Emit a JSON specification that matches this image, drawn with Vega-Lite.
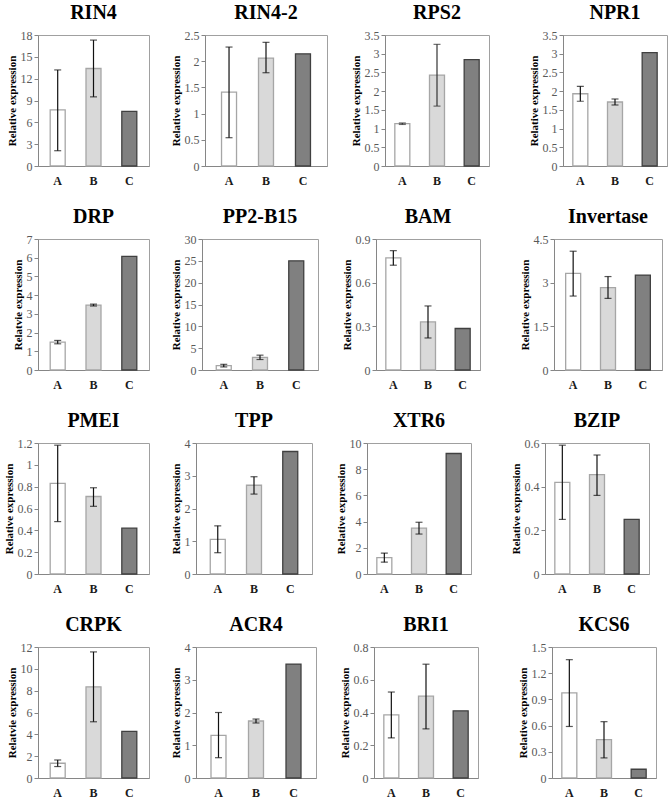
{
  "$schema": "https://vega.github.io/schema/vega-lite/v6.json",
  "padding": {"left": 2, "top": 2, "right": 2, "bottom": 2},
  "background": "#ffffff",
  "data": {"values": [
    {"gene": "RIN4", "g": "A", "v": 7.7, "lo": 2.1, "hi": 13.2},
    {"gene": "RIN4", "g": "B", "v": 13.4, "lo": 9.5, "hi": 17.3},
    {"gene": "RIN4", "g": "C", "v": 7.5},
    {"gene": "RIN4-2", "g": "A", "v": 1.41, "lo": 0.54, "hi": 2.27},
    {"gene": "RIN4-2", "g": "B", "v": 2.06, "lo": 1.78, "hi": 2.36},
    {"gene": "RIN4-2", "g": "C", "v": 2.14},
    {"gene": "RPS2", "g": "A", "v": 1.13, "lo": 1.11, "hi": 1.15},
    {"gene": "RPS2", "g": "B", "v": 2.43, "lo": 1.6, "hi": 3.25},
    {"gene": "RPS2", "g": "C", "v": 2.84},
    {"gene": "NPR1", "g": "A", "v": 1.93, "lo": 1.73, "hi": 2.13},
    {"gene": "NPR1", "g": "B", "v": 1.71, "lo": 1.63, "hi": 1.79},
    {"gene": "NPR1", "g": "C", "v": 3.03},
    {"gene": "DRP", "g": "A", "v": 1.49, "lo": 1.4, "hi": 1.58},
    {"gene": "DRP", "g": "B", "v": 3.47, "lo": 3.42, "hi": 3.52},
    {"gene": "DRP", "g": "C", "v": 6.07},
    {"gene": "PP2-B15", "g": "A", "v": 1.0, "lo": 0.7, "hi": 1.3},
    {"gene": "PP2-B15", "g": "B", "v": 2.9, "lo": 2.4, "hi": 3.4},
    {"gene": "PP2-B15", "g": "C", "v": 25.0},
    {"gene": "BAM", "g": "A", "v": 0.77, "lo": 0.72, "hi": 0.82},
    {"gene": "BAM", "g": "B", "v": 0.33, "lo": 0.22, "hi": 0.44},
    {"gene": "BAM", "g": "C", "v": 0.285},
    {"gene": "Invertase", "g": "A", "v": 3.32, "lo": 2.54, "hi": 4.08},
    {"gene": "Invertase", "g": "B", "v": 2.83, "lo": 2.46, "hi": 3.21},
    {"gene": "Invertase", "g": "C", "v": 3.26},
    {"gene": "PMEI", "g": "A", "v": 0.83, "lo": 0.48, "hi": 1.18},
    {"gene": "PMEI", "g": "B", "v": 0.71, "lo": 0.62, "hi": 0.79},
    {"gene": "PMEI", "g": "C", "v": 0.42},
    {"gene": "TPP", "g": "A", "v": 1.06, "lo": 0.65, "hi": 1.47},
    {"gene": "TPP", "g": "B", "v": 2.71, "lo": 2.44, "hi": 2.97},
    {"gene": "TPP", "g": "C", "v": 3.74},
    {"gene": "XTR6", "g": "A", "v": 1.25, "lo": 0.9, "hi": 1.6},
    {"gene": "XTR6", "g": "B", "v": 3.5, "lo": 3.05, "hi": 3.95},
    {"gene": "XTR6", "g": "C", "v": 9.2},
    {"gene": "BZIP", "g": "A", "v": 0.42, "lo": 0.25, "hi": 0.59},
    {"gene": "BZIP", "g": "B", "v": 0.455, "lo": 0.36, "hi": 0.545},
    {"gene": "BZIP", "g": "C", "v": 0.25},
    {"gene": "CRPK", "g": "A", "v": 1.35, "lo": 1.05, "hi": 1.65},
    {"gene": "CRPK", "g": "B", "v": 8.35, "lo": 5.15, "hi": 11.55},
    {"gene": "CRPK", "g": "C", "v": 4.28},
    {"gene": "ACR4", "g": "A", "v": 1.3, "lo": 0.62, "hi": 2.0},
    {"gene": "ACR4", "g": "B", "v": 1.74, "lo": 1.68, "hi": 1.8},
    {"gene": "ACR4", "g": "C", "v": 3.48},
    {"gene": "BRI1", "g": "A", "v": 0.385, "lo": 0.245, "hi": 0.525},
    {"gene": "BRI1", "g": "B", "v": 0.5, "lo": 0.3, "hi": 0.695},
    {"gene": "BRI1", "g": "C", "v": 0.41},
    {"gene": "KCS6", "g": "A", "v": 0.975, "lo": 0.59, "hi": 1.355},
    {"gene": "KCS6", "g": "B", "v": 0.44, "lo": 0.23, "hi": 0.645},
    {"gene": "KCS6", "g": "C", "v": 0.1}
  ]},
  "spacing": 19,
  "vconcat": [
   {"spacing": 21, "hconcat": [
    {"spacing": 19, "hconcat": [
    {"title": "RIN4", "width": 111, "height": 131, "transform": [{"filter": "datum.gene === 'RIN4'"}],
     "encoding": {"x": {"field": "g", "type": "nominal", "scale": {"paddingInner": 0, "paddingOuter": 0.05}}},
     "layer": [
      {"mark": {"type": "bar", "width": 15, "strokeWidth": 1.3}, "encoding": {"y": {"field": "v", "type": "quantitative", "title": "Relative expression", "scale": {"domain": [0, 18], "nice": false}, "axis": {"values": [0, 3, 6, 9, 12, 15, 18]}}, "fill": {"field": "g", "type": "nominal", "scale": {"domain": ["A", "B", "C"], "range": ["#ffffff", "#d9d9d9", "#808080"]}, "legend": null}, "stroke": {"field": "g", "type": "nominal", "scale": {"domain": ["A", "B", "C"], "range": ["#a6a6a6", "#a6a6a6", "#404040"]}, "legend": null}}},
      {"transform": [{"filter": "isValid(datum.lo)"}], "mark": {"type": "rule", "color": "#111", "strokeWidth": 1.2}, "encoding": {"y": {"field": "lo", "type": "quantitative", "title": "Relative expression"}, "y2": {"field": "hi"}}},
      {"transform": [{"filter": "isValid(datum.lo)"}], "mark": {"type": "tick", "size": 7, "thickness": 1.2, "color": "#111"}, "encoding": {"y": {"field": "lo", "type": "quantitative", "title": "Relative expression"}}},
      {"transform": [{"filter": "isValid(datum.lo)"}], "mark": {"type": "tick", "size": 7, "thickness": 1.2, "color": "#111"}, "encoding": {"y": {"field": "hi", "type": "quantitative", "title": "Relative expression"}}}
     ]},
    {"title": "RIN4-2", "width": 122, "height": 131, "transform": [{"filter": "datum.gene === 'RIN4-2'"}],
     "encoding": {"x": {"field": "g", "type": "nominal", "scale": {"paddingInner": 0, "paddingOuter": 0.15}}},
     "layer": [
      {"mark": {"type": "bar", "width": 15, "strokeWidth": 1.3}, "encoding": {"y": {"field": "v", "type": "quantitative", "title": "Relative expression", "scale": {"domain": [0, 2.5], "nice": false}, "axis": {"values": [0, 0.5, 1, 1.5, 2, 2.5]}}, "fill": {"field": "g", "type": "nominal", "legend": null}, "stroke": {"field": "g", "type": "nominal", "legend": null}}},
      {"transform": [{"filter": "isValid(datum.lo)"}], "mark": {"type": "rule", "color": "#111", "strokeWidth": 1.2}, "encoding": {"y": {"field": "lo", "type": "quantitative", "title": "Relative expression"}, "y2": {"field": "hi"}}},
      {"transform": [{"filter": "isValid(datum.lo)"}], "mark": {"type": "tick", "size": 7, "thickness": 1.2, "color": "#111"}, "encoding": {"y": {"field": "lo", "type": "quantitative", "title": "Relative expression"}}},
      {"transform": [{"filter": "isValid(datum.lo)"}], "mark": {"type": "tick", "size": 7, "thickness": 1.2, "color": "#111"}, "encoding": {"y": {"field": "hi", "type": "quantitative", "title": "Relative expression"}}}
     ]}
    ]},
    {"spacing": 37, "hconcat": [
    {"title": "RPS2", "width": 104, "height": 131, "transform": [{"filter": "datum.gene === 'RPS2'"}],
     "encoding": {"x": {"field": "g", "type": "nominal", "scale": {"paddingInner": 0, "paddingOuter": 0.0}}},
     "layer": [
      {"mark": {"type": "bar", "width": 15, "strokeWidth": 1.3}, "encoding": {"y": {"field": "v", "type": "quantitative", "title": "Relative expression", "scale": {"domain": [0, 3.5], "nice": false}, "axis": {"values": [0, 0.5, 1, 1.5, 2, 2.5, 3, 3.5]}}, "fill": {"field": "g", "type": "nominal", "legend": null}, "stroke": {"field": "g", "type": "nominal", "legend": null}}},
      {"transform": [{"filter": "isValid(datum.lo)"}], "mark": {"type": "rule", "color": "#333", "strokeWidth": 1.2}, "encoding": {"y": {"field": "lo", "type": "quantitative", "title": "Relative expression"}, "y2": {"field": "hi"}}},
      {"transform": [{"filter": "isValid(datum.lo)"}], "mark": {"type": "tick", "size": 7, "thickness": 1.2, "color": "#333"}, "encoding": {"y": {"field": "lo", "type": "quantitative", "title": "Relative expression"}}},
      {"transform": [{"filter": "isValid(datum.lo)"}], "mark": {"type": "tick", "size": 7, "thickness": 1.2, "color": "#333"}, "encoding": {"y": {"field": "hi", "type": "quantitative", "title": "Relative expression"}}}
     ]},
    {"title": "NPR1", "width": 104, "height": 131, "transform": [{"filter": "datum.gene === 'NPR1'"}],
     "encoding": {"x": {"field": "g", "type": "nominal", "scale": {"paddingInner": 0, "paddingOuter": 0.0}}},
     "layer": [
      {"mark": {"type": "bar", "width": 15, "strokeWidth": 1.3}, "encoding": {"y": {"field": "v", "type": "quantitative", "title": "Relative expression", "scale": {"domain": [0, 3.5], "nice": false}, "axis": {"values": [0, 0.5, 1, 1.5, 2, 2.5, 3, 3.5]}}, "fill": {"field": "g", "type": "nominal", "legend": null}, "stroke": {"field": "g", "type": "nominal", "legend": null}}},
      {"transform": [{"filter": "isValid(datum.lo)"}], "mark": {"type": "rule", "color": "#111", "strokeWidth": 1.2}, "encoding": {"y": {"field": "lo", "type": "quantitative", "title": "Relative expression"}, "y2": {"field": "hi"}}},
      {"transform": [{"filter": "isValid(datum.lo)"}], "mark": {"type": "tick", "size": 7, "thickness": 1.2, "color": "#111"}, "encoding": {"y": {"field": "lo", "type": "quantitative", "title": "Relative expression"}}},
      {"transform": [{"filter": "isValid(datum.lo)"}], "mark": {"type": "tick", "size": 7, "thickness": 1.2, "color": "#111"}, "encoding": {"y": {"field": "hi", "type": "quantitative", "title": "Relative expression"}}}
     ]}
    ]}
   ]},
   {"spacing": 21, "hconcat": [
    {"spacing": 19, "hconcat": [
    {"title": "DRP", "width": 111, "height": 131, "transform": [{"filter": "datum.gene === 'DRP'"}],
     "encoding": {"x": {"field": "g", "type": "nominal", "scale": {"paddingInner": 0, "paddingOuter": 0.05}}},
     "layer": [
      {"mark": {"type": "bar", "width": 15, "strokeWidth": 1.3}, "encoding": {"y": {"field": "v", "type": "quantitative", "title": "Relatvie expression", "scale": {"domain": [0, 7], "nice": false}, "axis": {"values": [0, 1, 2, 3, 4, 5, 6, 7]}}, "fill": {"field": "g", "type": "nominal", "legend": null}, "stroke": {"field": "g", "type": "nominal", "legend": null}}},
      {"transform": [{"filter": "isValid(datum.lo)"}], "mark": {"type": "rule", "color": "#111", "strokeWidth": 1.2}, "encoding": {"y": {"field": "lo", "type": "quantitative", "title": "Relatvie expression"}, "y2": {"field": "hi"}}},
      {"transform": [{"filter": "isValid(datum.lo)"}], "mark": {"type": "tick", "size": 7, "thickness": 1.2, "color": "#111"}, "encoding": {"y": {"field": "lo", "type": "quantitative", "title": "Relatvie expression"}}},
      {"transform": [{"filter": "isValid(datum.lo)"}], "mark": {"type": "tick", "size": 7, "thickness": 1.2, "color": "#111"}, "encoding": {"y": {"field": "hi", "type": "quantitative", "title": "Relatvie expression"}}}
     ]},
    {"title": "PP2-B15", "width": 116, "height": 131, "transform": [{"filter": "datum.gene === 'PP2-B15'"}],
     "encoding": {"x": {"field": "g", "type": "nominal", "scale": {"paddingInner": 0, "paddingOuter": 0.1}}},
     "layer": [
      {"mark": {"type": "bar", "width": 15, "strokeWidth": 1.3}, "encoding": {"y": {"field": "v", "type": "quantitative", "title": "Relative expression", "scale": {"domain": [0, 30], "nice": false}, "axis": {"values": [0, 5, 10, 15, 20, 25, 30]}}, "fill": {"field": "g", "type": "nominal", "legend": null}, "stroke": {"field": "g", "type": "nominal", "legend": null}}},
      {"transform": [{"filter": "isValid(datum.lo)"}], "mark": {"type": "rule", "color": "#111", "strokeWidth": 1.2}, "encoding": {"y": {"field": "lo", "type": "quantitative", "title": "Relative expression"}, "y2": {"field": "hi"}}},
      {"transform": [{"filter": "isValid(datum.lo)"}], "mark": {"type": "tick", "size": 7, "thickness": 1.2, "color": "#111"}, "encoding": {"y": {"field": "lo", "type": "quantitative", "title": "Relative expression"}}},
      {"transform": [{"filter": "isValid(datum.lo)"}], "mark": {"type": "tick", "size": 7, "thickness": 1.2, "color": "#111"}, "encoding": {"y": {"field": "hi", "type": "quantitative", "title": "Relative expression"}}}
     ]}
    ]},
    {"spacing": 37, "hconcat": [
    {"title": "BAM", "width": 104, "height": 131, "transform": [{"filter": "datum.gene === 'BAM'"}],
     "encoding": {"x": {"field": "g", "type": "nominal", "scale": {"paddingInner": 0, "paddingOuter": 0.0}}},
     "layer": [
      {"mark": {"type": "bar", "width": 15, "strokeWidth": 1.3}, "encoding": {"y": {"field": "v", "type": "quantitative", "title": "Relative expression", "scale": {"domain": [0, 0.9], "nice": false}, "axis": {"values": [0, 0.3, 0.6, 0.9]}}, "fill": {"field": "g", "type": "nominal", "legend": null}, "stroke": {"field": "g", "type": "nominal", "legend": null}}},
      {"transform": [{"filter": "isValid(datum.lo)"}], "mark": {"type": "rule", "color": "#111", "strokeWidth": 1.2}, "encoding": {"y": {"field": "lo", "type": "quantitative", "title": "Relative expression"}, "y2": {"field": "hi"}}},
      {"transform": [{"filter": "isValid(datum.lo)"}], "mark": {"type": "tick", "size": 7, "thickness": 1.2, "color": "#111"}, "encoding": {"y": {"field": "lo", "type": "quantitative", "title": "Relative expression"}}},
      {"transform": [{"filter": "isValid(datum.lo)"}], "mark": {"type": "tick", "size": 7, "thickness": 1.2, "color": "#111"}, "encoding": {"y": {"field": "hi", "type": "quantitative", "title": "Relative expression"}}}
     ]},
    {"title": "Invertase", "width": 108, "height": 131, "transform": [{"filter": "datum.gene === 'Invertase'"}],
     "encoding": {"x": {"field": "g", "type": "nominal", "scale": {"paddingInner": 0, "paddingOuter": 0.05}}},
     "layer": [
      {"mark": {"type": "bar", "width": 15, "strokeWidth": 1.3}, "encoding": {"y": {"field": "v", "type": "quantitative", "title": "Relative expression", "scale": {"domain": [0, 4.5], "nice": false}, "axis": {"values": [0, 1.5, 3, 4.5]}}, "fill": {"field": "g", "type": "nominal", "legend": null}, "stroke": {"field": "g", "type": "nominal", "legend": null}}},
      {"transform": [{"filter": "isValid(datum.lo)"}], "mark": {"type": "rule", "color": "#111", "strokeWidth": 1.2}, "encoding": {"y": {"field": "lo", "type": "quantitative", "title": "Relative expression"}, "y2": {"field": "hi"}}},
      {"transform": [{"filter": "isValid(datum.lo)"}], "mark": {"type": "tick", "size": 7, "thickness": 1.2, "color": "#111"}, "encoding": {"y": {"field": "lo", "type": "quantitative", "title": "Relative expression"}}},
      {"transform": [{"filter": "isValid(datum.lo)"}], "mark": {"type": "tick", "size": 7, "thickness": 1.2, "color": "#111"}, "encoding": {"y": {"field": "hi", "type": "quantitative", "title": "Relative expression"}}}
     ]}
    ]}
   ]},
   {"spacing": 21, "hconcat": [
    {"spacing": 19, "hconcat": [
    {"title": "PMEI", "width": 111, "height": 131, "transform": [{"filter": "datum.gene === 'PMEI'"}],
     "encoding": {"x": {"field": "g", "type": "nominal", "scale": {"paddingInner": 0, "paddingOuter": 0.05}}},
     "layer": [
      {"mark": {"type": "bar", "width": 15, "strokeWidth": 1.3}, "encoding": {"y": {"field": "v", "type": "quantitative", "title": "Relative expression", "scale": {"domain": [0, 1.2], "nice": false}, "axis": {"values": [0, 0.2, 0.4, 0.6, 0.8, 1, 1.2]}}, "fill": {"field": "g", "type": "nominal", "legend": null}, "stroke": {"field": "g", "type": "nominal", "legend": null}}},
      {"transform": [{"filter": "isValid(datum.lo)"}], "mark": {"type": "rule", "color": "#111", "strokeWidth": 1.2}, "encoding": {"y": {"field": "lo", "type": "quantitative", "title": "Relative expression"}, "y2": {"field": "hi"}}},
      {"transform": [{"filter": "isValid(datum.lo)"}], "mark": {"type": "tick", "size": 7, "thickness": 1.2, "color": "#111"}, "encoding": {"y": {"field": "lo", "type": "quantitative", "title": "Relative expression"}}},
      {"transform": [{"filter": "isValid(datum.lo)"}], "mark": {"type": "tick", "size": 7, "thickness": 1.2, "color": "#111"}, "encoding": {"y": {"field": "hi", "type": "quantitative", "title": "Relative expression"}}}
     ]},
    {"title": "TPP", "width": 116, "height": 131, "transform": [{"filter": "datum.gene === 'TPP'"}],
     "encoding": {"x": {"field": "g", "type": "nominal", "scale": {"paddingInner": 0, "paddingOuter": 0.1}}},
     "layer": [
      {"mark": {"type": "bar", "width": 15, "strokeWidth": 1.3}, "encoding": {"y": {"field": "v", "type": "quantitative", "title": "Relative expression", "scale": {"domain": [0, 4], "nice": false}, "axis": {"values": [0, 1, 2, 3, 4]}}, "fill": {"field": "g", "type": "nominal", "legend": null}, "stroke": {"field": "g", "type": "nominal", "legend": null}}},
      {"transform": [{"filter": "isValid(datum.lo)"}], "mark": {"type": "rule", "color": "#111", "strokeWidth": 1.2}, "encoding": {"y": {"field": "lo", "type": "quantitative", "title": "Relative expression"}, "y2": {"field": "hi"}}},
      {"transform": [{"filter": "isValid(datum.lo)"}], "mark": {"type": "tick", "size": 7, "thickness": 1.2, "color": "#111"}, "encoding": {"y": {"field": "lo", "type": "quantitative", "title": "Relative expression"}}},
      {"transform": [{"filter": "isValid(datum.lo)"}], "mark": {"type": "tick", "size": 7, "thickness": 1.2, "color": "#111"}, "encoding": {"y": {"field": "hi", "type": "quantitative", "title": "Relative expression"}}}
     ]}
    ]},
    {"spacing": 37, "hconcat": [
    {"title": "XTR6", "width": 104, "height": 131, "transform": [{"filter": "datum.gene === 'XTR6'"}],
     "encoding": {"x": {"field": "g", "type": "nominal", "scale": {"paddingInner": 0, "paddingOuter": 0.0}}},
     "layer": [
      {"mark": {"type": "bar", "width": 15, "strokeWidth": 1.3}, "encoding": {"y": {"field": "v", "type": "quantitative", "title": "Relative expression", "scale": {"domain": [0, 10], "nice": false}, "axis": {"values": [0, 2, 4, 6, 8, 10]}}, "fill": {"field": "g", "type": "nominal", "legend": null}, "stroke": {"field": "g", "type": "nominal", "legend": null}}},
      {"transform": [{"filter": "isValid(datum.lo)"}], "mark": {"type": "rule", "color": "#111", "strokeWidth": 1.2}, "encoding": {"y": {"field": "lo", "type": "quantitative", "title": "Relative expression"}, "y2": {"field": "hi"}}},
      {"transform": [{"filter": "isValid(datum.lo)"}], "mark": {"type": "tick", "size": 7, "thickness": 1.2, "color": "#111"}, "encoding": {"y": {"field": "lo", "type": "quantitative", "title": "Relative expression"}}},
      {"transform": [{"filter": "isValid(datum.lo)"}], "mark": {"type": "tick", "size": 7, "thickness": 1.2, "color": "#111"}, "encoding": {"y": {"field": "hi", "type": "quantitative", "title": "Relative expression"}}}
     ]},
    {"title": "BZIP", "width": 104, "height": 131, "transform": [{"filter": "datum.gene === 'BZIP'"}],
     "encoding": {"x": {"field": "g", "type": "nominal", "scale": {"paddingInner": 0, "paddingOuter": 0.0}}},
     "layer": [
      {"mark": {"type": "bar", "width": 15, "strokeWidth": 1.3}, "encoding": {"y": {"field": "v", "type": "quantitative", "title": "Relative expression", "scale": {"domain": [0, 0.6], "nice": false}, "axis": {"values": [0, 0.2, 0.4, 0.6]}}, "fill": {"field": "g", "type": "nominal", "legend": null}, "stroke": {"field": "g", "type": "nominal", "legend": null}}},
      {"transform": [{"filter": "isValid(datum.lo)"}], "mark": {"type": "rule", "color": "#111", "strokeWidth": 1.2}, "encoding": {"y": {"field": "lo", "type": "quantitative", "title": "Relative expression"}, "y2": {"field": "hi"}}},
      {"transform": [{"filter": "isValid(datum.lo)"}], "mark": {"type": "tick", "size": 7, "thickness": 1.2, "color": "#111"}, "encoding": {"y": {"field": "lo", "type": "quantitative", "title": "Relative expression"}}},
      {"transform": [{"filter": "isValid(datum.lo)"}], "mark": {"type": "tick", "size": 7, "thickness": 1.2, "color": "#111"}, "encoding": {"y": {"field": "hi", "type": "quantitative", "title": "Relative expression"}}}
     ]}
    ]}
   ]},
   {"spacing": 21, "hconcat": [
    {"spacing": 19, "hconcat": [
    {"title": "CRPK", "width": 111, "height": 131, "transform": [{"filter": "datum.gene === 'CRPK'"}],
     "encoding": {"x": {"field": "g", "type": "nominal", "scale": {"paddingInner": 0, "paddingOuter": 0.05}}},
     "layer": [
      {"mark": {"type": "bar", "width": 15, "strokeWidth": 1.3}, "encoding": {"y": {"field": "v", "type": "quantitative", "title": "Relatvie expression", "scale": {"domain": [0, 12], "nice": false}, "axis": {"values": [0, 2, 4, 6, 8, 10, 12]}}, "fill": {"field": "g", "type": "nominal", "legend": null}, "stroke": {"field": "g", "type": "nominal", "legend": null}}},
      {"transform": [{"filter": "isValid(datum.lo)"}], "mark": {"type": "rule", "color": "#111", "strokeWidth": 1.2}, "encoding": {"y": {"field": "lo", "type": "quantitative", "title": "Relatvie expression"}, "y2": {"field": "hi"}}},
      {"transform": [{"filter": "isValid(datum.lo)"}], "mark": {"type": "tick", "size": 7, "thickness": 1.2, "color": "#111"}, "encoding": {"y": {"field": "lo", "type": "quantitative", "title": "Relatvie expression"}}},
      {"transform": [{"filter": "isValid(datum.lo)"}], "mark": {"type": "tick", "size": 7, "thickness": 1.2, "color": "#111"}, "encoding": {"y": {"field": "hi", "type": "quantitative", "title": "Relatvie expression"}}}
     ]},
    {"title": "ACR4", "width": 120, "height": 131, "transform": [{"filter": "datum.gene === 'ACR4'"}],
     "encoding": {"x": {"field": "g", "type": "nominal", "scale": {"paddingInner": 0, "paddingOuter": 0.1}}},
     "layer": [
      {"mark": {"type": "bar", "width": 15, "strokeWidth": 1.3}, "encoding": {"y": {"field": "v", "type": "quantitative", "title": "Relative expression", "scale": {"domain": [0, 4], "nice": false}, "axis": {"values": [0, 1, 2, 3, 4]}}, "fill": {"field": "g", "type": "nominal", "legend": null}, "stroke": {"field": "g", "type": "nominal", "legend": null}}},
      {"transform": [{"filter": "isValid(datum.lo)"}], "mark": {"type": "rule", "color": "#111", "strokeWidth": 1.2}, "encoding": {"y": {"field": "lo", "type": "quantitative", "title": "Relative expression"}, "y2": {"field": "hi"}}},
      {"transform": [{"filter": "isValid(datum.lo)"}], "mark": {"type": "tick", "size": 7, "thickness": 1.2, "color": "#111"}, "encoding": {"y": {"field": "lo", "type": "quantitative", "title": "Relative expression"}}},
      {"transform": [{"filter": "isValid(datum.lo)"}], "mark": {"type": "tick", "size": 7, "thickness": 1.2, "color": "#111"}, "encoding": {"y": {"field": "hi", "type": "quantitative", "title": "Relative expression"}}}
     ]}
    ]},
    {"spacing": 37, "hconcat": [
    {"title": "BRI1", "width": 104, "height": 131, "transform": [{"filter": "datum.gene === 'BRI1'"}],
     "encoding": {"x": {"field": "g", "type": "nominal", "scale": {"paddingInner": 0, "paddingOuter": 0.0}}},
     "layer": [
      {"mark": {"type": "bar", "width": 15, "strokeWidth": 1.3}, "encoding": {"y": {"field": "v", "type": "quantitative", "title": "Relative expression", "scale": {"domain": [0, 0.8], "nice": false}, "axis": {"values": [0, 0.2, 0.4, 0.6, 0.8]}}, "fill": {"field": "g", "type": "nominal", "legend": null}, "stroke": {"field": "g", "type": "nominal", "legend": null}}},
      {"transform": [{"filter": "isValid(datum.lo)"}], "mark": {"type": "rule", "color": "#111", "strokeWidth": 1.2}, "encoding": {"y": {"field": "lo", "type": "quantitative", "title": "Relative expression"}, "y2": {"field": "hi"}}},
      {"transform": [{"filter": "isValid(datum.lo)"}], "mark": {"type": "tick", "size": 7, "thickness": 1.2, "color": "#111"}, "encoding": {"y": {"field": "lo", "type": "quantitative", "title": "Relative expression"}}},
      {"transform": [{"filter": "isValid(datum.lo)"}], "mark": {"type": "tick", "size": 7, "thickness": 1.2, "color": "#111"}, "encoding": {"y": {"field": "hi", "type": "quantitative", "title": "Relative expression"}}}
     ]},
    {"title": "KCS6", "width": 104, "height": 131, "transform": [{"filter": "datum.gene === 'KCS6'"}],
     "encoding": {"x": {"field": "g", "type": "nominal", "scale": {"paddingInner": 0, "paddingOuter": 0.0}}},
     "layer": [
      {"mark": {"type": "bar", "width": 15, "strokeWidth": 1.3}, "encoding": {"y": {"field": "v", "type": "quantitative", "title": "Relative expression", "scale": {"domain": [0, 1.5], "nice": false}, "axis": {"values": [0, 0.3, 0.6, 0.9, 1.2, 1.5]}}, "fill": {"field": "g", "type": "nominal", "legend": null}, "stroke": {"field": "g", "type": "nominal", "legend": null}}},
      {"transform": [{"filter": "isValid(datum.lo)"}], "mark": {"type": "rule", "color": "#111", "strokeWidth": 1.2}, "encoding": {"y": {"field": "lo", "type": "quantitative", "title": "Relative expression"}, "y2": {"field": "hi"}}},
      {"transform": [{"filter": "isValid(datum.lo)"}], "mark": {"type": "tick", "size": 7, "thickness": 1.2, "color": "#111"}, "encoding": {"y": {"field": "lo", "type": "quantitative", "title": "Relative expression"}}},
      {"transform": [{"filter": "isValid(datum.lo)"}], "mark": {"type": "tick", "size": 7, "thickness": 1.2, "color": "#111"}, "encoding": {"y": {"field": "hi", "type": "quantitative", "title": "Relative expression"}}}
     ]}
    ]}
   ]}
  ],
  "config": {
    "view": {"stroke": "#a0a0a0", "strokeWidth": 1},
    "axis": {"labelFont": "Times New Roman, Liberation Serif, serif", "labelColor": "#595959", "labelFontSize": 12, "titleFont": "Times New Roman, Liberation Serif, serif", "titleFontWeight": "bold", "titleFontSize": 11, "titleColor": "#000000", "grid": false, "domainColor": "#868686", "tickColor": "#868686"},
    "axisX": {"labelFontWeight": "bold", "labelColor": "#1a1a1a", "labelFontSize": 12, "ticks": false, "labelAngle": 0, "title": null, "labelPadding": 9},
    "axisY": {"tickSize": 4, "titlePadding": 3, "labelPadding": 2, "format": "~f", "labelOverlap": false, "tickCount": 30},
    "title": {"font": "Times New Roman, Liberation Serif, serif", "fontSize": 20, "fontWeight": "bold", "color": "#000000", "offset": 6}
  }
}
